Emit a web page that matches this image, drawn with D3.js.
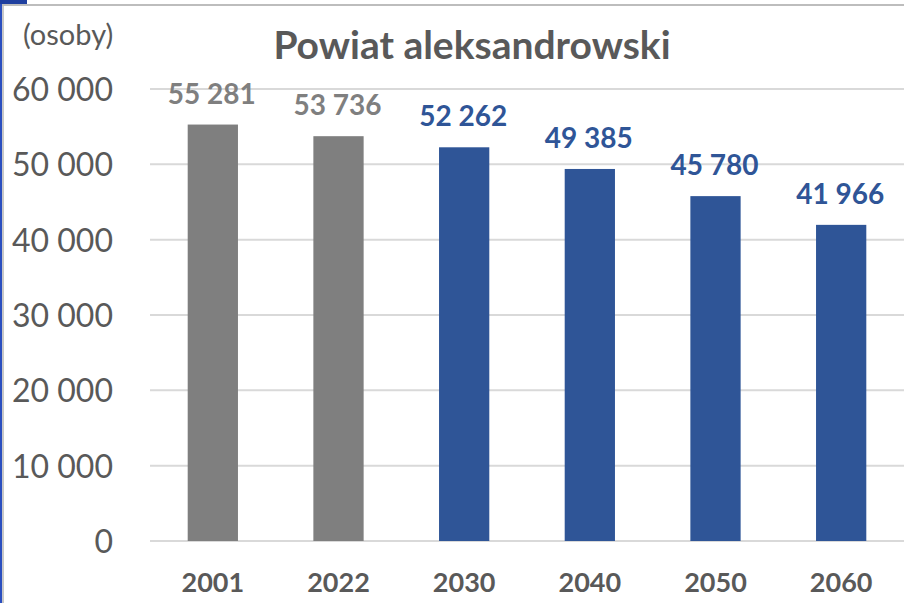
<!DOCTYPE html>
<html>
<head>
<meta charset="utf-8">
<script src="https://cdn.jsdelivr.net/npm/d3@7"></script>
<style>
  html, body { margin: 0; padding: 0; background: #fff; }
  svg { display: block; font-family: Lato, "Open Sans", sans-serif; }
</style>
</head>
<body>
<svg id="chart" width="904" height="603"></svg>
<script>
// data
const years = ['2001', '2022', '2030', '2040', '2050', '2060'];
const population = [55281, 53736, 52262, 49385, 45780, 41966];
const projected = [false, false, true, true, true, true];
const yTicks = [0, 10000, 20000, 30000, 40000, 50000, 60000];

const width = 904, height = 603;
const svg = d3.select('#chart');

// frame bits around the picture
svg.append('rect').attr('x', 0).attr('y', 0).attr('width', 2).attr('height', height).attr('fill', '#2b4fbf');
svg.append('rect').attr('x', 2).attr('y', 4).attr('width', 2).attr('height', height - 4).attr('fill', '#c8c8c8');
svg.append('rect').attr('x', 2).attr('y', 4).attr('width', width - 2).attr('height', 2).attr('fill', '#bdbdbd');
svg.append('rect').attr('x', 0).attr('y', 0).attr('width', 27).attr('height', 4).attr('fill', '#1f3f9f');

const x = d3.scaleBand().domain(years).range([150, 904]).paddingInner(0.6).paddingOuter(0.3);
const y = d3.scaleLinear().domain([0, 60000]).range([541, 89]);

const fmt = v => d3.format(',')(v).replace(/,/g, ' ');

// gridlines
svg.append('g')
  .selectAll('line')
  .data(yTicks)
  .join('line')
  .attr('x1', 150).attr('x2', 904)
  .attr('y1', d => y(d)).attr('y2', d => y(d))
  .attr('stroke', '#d9d9d9').attr('stroke-width', 2);

// y axis labels
const yAxis = svg.append('g')
  .attr('transform', 'translate(113,0)')
  .call(d3.axisLeft(y).tickValues(yTicks).tickFormat(fmt).tickSize(0).tickPadding(0));
yAxis.select('.domain').remove();
yAxis.selectAll('text')
  .attr('font-size', 32).attr('fill', '#595959')
  .attr('font-family', 'Lato, sans-serif')
  .attr('dy', '0.36em');

// x axis labels
const xAxis = svg.append('g')
  .attr('transform', 'translate(0,541)')
  .call(d3.axisBottom(x).tickSize(0).tickPadding(0));
xAxis.select('.domain').remove();
xAxis.selectAll('text')
  .attr('font-size', 27).attr('font-weight', 'bold').attr('fill', '#595959')
  .attr('font-family', 'Lato, sans-serif')
  .attr('y', 51).attr('dy', 0);

// bars
svg.append('g')
  .selectAll('rect')
  .data(years)
  .join('rect')
  .attr('x', d => x(d))
  .attr('y', (d, i) => y(population[i]))
  .attr('width', x.bandwidth())
  .attr('height', (d, i) => y(0) - y(population[i]))
  .attr('fill', (d, i) => projected[i] ? '#2f5597' : '#7f7f7f');

// value labels
svg.append('g')
  .selectAll('text')
  .data(years)
  .join('text')
  .attr('x', d => x(d) + x.bandwidth() / 2 - 1)
  .attr('y', (d, i) => y(population[i]) - 21)
  .attr('text-anchor', 'middle')
  .attr('font-size', 28).attr('font-weight', 'bold')
  .attr('fill', (d, i) => projected[i] ? '#2f5597' : '#7f7f7f')
  .text((d, i) => fmt(population[i]));

// title and unit
svg.append('text')
  .attr('x', 472).attr('y', 59)
  .attr('text-anchor', 'middle')
  .attr('font-size', 39).attr('font-weight', 'bold').attr('fill', '#595959')
  .text('Powiat aleksandrowski');

svg.append('text')
  .attr('x', 23).attr('y', 45)
  .attr('font-size', 29).attr('fill', '#595959')
  .text('(osoby)');
</script>
</body>
</html>
